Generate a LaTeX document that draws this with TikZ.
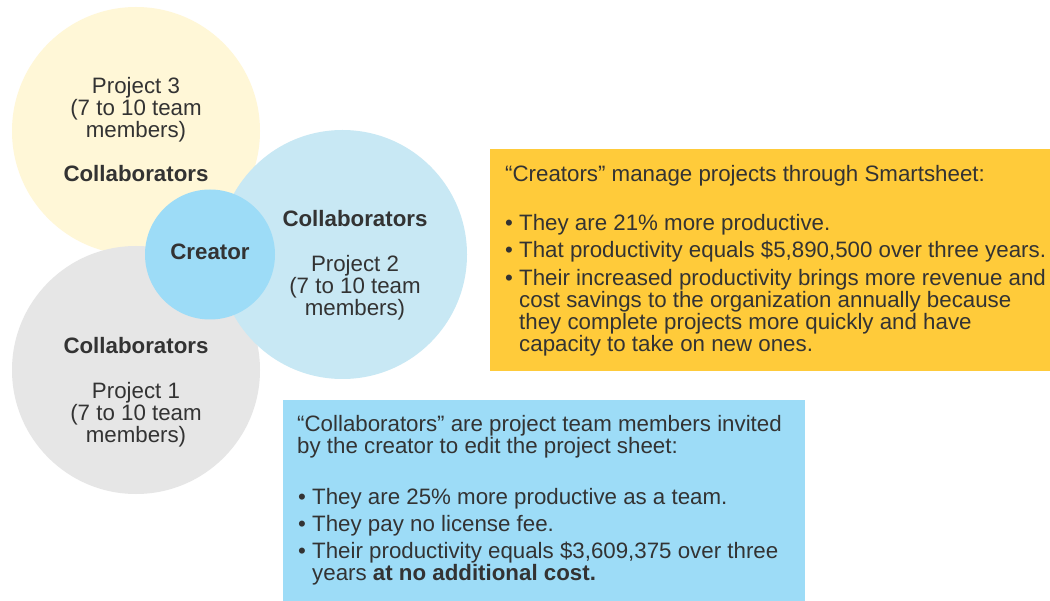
\documentclass[tikz,border=0pt]{standalone}
\usepackage{fontspec}
\setmainfont{Liberation Sans}
\definecolor{ink}{HTML}{333333}
\definecolor{cream}{HTML}{FFF7D7}
\definecolor{mist}{HTML}{E6E6E6}
\definecolor{sky}{HTML}{C8E8F4}
\definecolor{core}{HTML}{9DDCF7}
\definecolor{amber}{HTML}{FFCB3A}
\begin{document}
\begin{tikzpicture}[x=1pt,y=-1pt,
  txt/.style={inner sep=0pt, text=ink, font=\fontsize{22.3}{22}\selectfont},
  ctr/.style={txt, anchor=base},
  lft/.style={txt, anchor=base west},
  hd/.style={ctr, font=\fontsize{22.3}{22}\selectfont\bfseries},
  bubble/.style={circle, inner sep=0pt, draw=none, minimum size=248pt},
  panel/.style={rectangle, inner sep=0pt, draw=none, anchor=north west}]
\useasboundingbox (0,0) rectangle (1050,601);
\fill[white] (0,0) rectangle (1050,601);

% project circles around the creator
\node[bubble, fill=cream] (p3) at (136,131) {};
\node[bubble, fill=mist] (p1) at (136,370) {};
\node[bubble, fill=sky, minimum size=249pt] (p2) at (342.5,254.5) {};
\node[bubble, fill=core, minimum size=130pt] (creator) at (210,254.5) {};

% circle labels
\node[ctr] (p3a) at (136,94) {Project 3};
\node[ctr] (p3b) at (136,116) {(7 to 10 team};
\node[ctr] (p3c) at (136,138) {members)};
\node[hd]  (p3h) at (136,182) {Collaborators};

\node[hd]  (p2h) at (355,227) {Collaborators};
\node[ctr] (p2a) at (355,272) {Project 2};
\node[ctr] (p2b) at (355,294) {(7 to 10 team};
\node[ctr] (p2c) at (355,316) {members)};

\node[hd]  (p1h) at (136,354) {Collaborators};
\node[ctr] (p1a) at (136,399) {Project 1};
\node[ctr] (p1b) at (136,421) {(7 to 10 team};
\node[ctr] (p1c) at (136,443) {members)};

\node[hd]  (crh) at (210,260) {Creator};

% creators panel
\node[panel, fill=amber, minimum width=580pt, minimum height=222pt] (cpanel) at (490,149) {};
\node[lft] (c1) at (505,182) {“Creators” manage projects through Smartsheet:};
\node[lft] (c2) at (505,231) {• They are 21\% more productive.};
\node[lft] (c3) at (505,258) {• That productivity equals \$5,890,500 over three years.};
\node[lft] (c4) at (505,286) {• Their increased productivity brings more revenue and};
\node[lft] (c5) at (519,308) {cost savings to the organization annually because};
\node[lft] (c6) at (519,330) {they complete projects more quickly and have};
\node[lft] (c7) at (519,352) {capacity to take on new ones.};

% collaborators panel
\node[panel, fill=core, minimum width=522pt, minimum height=215pt] (kpanel) at (283,400) {};
\node[lft] (k1) at (297,432) {“Collaborators” are project team members invited};
\node[lft] (k2) at (297,454) {by the creator to edit the project sheet:};
\node[lft] (k3) at (298,504) {• They are 25\% more productive as a team.};
\node[lft] (k4) at (298,531) {• They pay no license fee.};
\node[lft] (k5) at (298,558) {• Their productivity equals \$3,609,375 over three};
\node[lft] (k6) at (312,580) {years \textbf{at no additional cost.}};
\end{tikzpicture}
\end{document}
